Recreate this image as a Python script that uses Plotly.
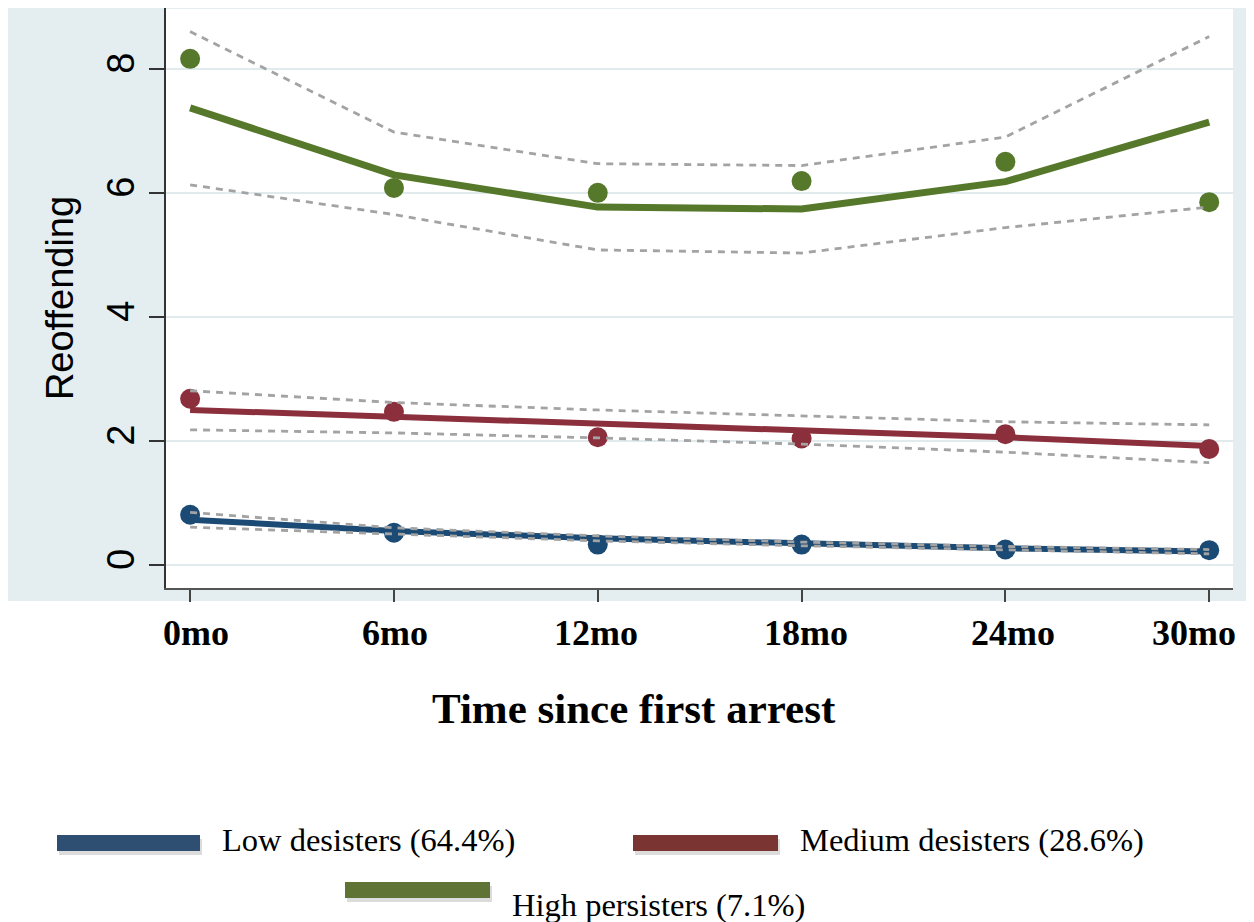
import plotly.graph_objects as go

# ---- data ----
months = [0, 6, 12, 18, 24, 30]
tick_labels = ["0mo", "6mo", "12mo", "18mo", "24mo", "30mo"]

low_obs = [0.81, 0.52, 0.33, 0.33, 0.25, 0.24]
low_fit = [0.73, 0.55, 0.43, 0.34, 0.27, 0.22]
low_up = [0.85, 0.60, 0.47, 0.37, 0.30, 0.25]
low_lo = [0.61, 0.50, 0.39, 0.31, 0.24, 0.18]

med_obs = [2.68, 2.47, 2.06, 2.04, 2.11, 1.87]
med_fit = [2.50, 2.39, 2.29, 2.18, 2.06, 1.92]
med_up = [2.81, 2.62, 2.50, 2.40, 2.31, 2.26]
med_lo = [2.18, 2.13, 2.05, 1.95, 1.82, 1.65]

high_obs = [8.16, 6.08, 6.00, 6.19, 6.50, 5.85]
high_fit = [7.37, 6.29, 5.77, 5.74, 6.18, 7.14]
high_up = [8.60, 6.98, 6.47, 6.44, 6.90, 8.52]
high_lo = [6.13, 5.65, 5.08, 5.03, 5.44, 5.77]

legend_names = ["Low desisters (64.4%)", "Medium desisters (28.6%)", "High persisters (7.1%)"]

BLUE = "#1b4a74"
RED = "#8c2f3c"
GREEN = "#56782b"
DASH = "#a3a3a3"

# page body has an 8px margin; figure is sized so it ends at the window edge
OFF = 8
W, H = 1254 - OFF, 922 - OFF
PLOT_L, PLOT_R, PLOT_T, PLOT_B = 166, 1233, 8, 588   # screen pixels
L, R, T, B = PLOT_L - OFF, 1254 - PLOT_R, PLOT_T - OFF, 922 - PLOT_B
PW, PH = W - L - R, H - T - B


def px(x):
    return (x - PLOT_L) / PW


def py(y):
    return (PLOT_B - y) / PH


fig = go.Figure()

series = [
    (low_obs, low_fit, low_up, low_lo, BLUE, 6),
    (med_obs, med_fit, med_up, med_lo, RED, 6),
    (high_obs, high_fit, high_up, high_lo, GREEN, 7),
]

for obs, fit, up, lo, col, lw in series:
    fig.add_trace(go.Scatter(x=months, y=obs, mode="markers",
                             marker=dict(color=col, size=20), showlegend=False))
for obs, fit, up, lo, col, lw in series:
    fig.add_trace(go.Scatter(x=months, y=fit, mode="lines",
                             line=dict(color=col, width=lw), showlegend=False))
for obs, fit, up, lo, col, lw in series:
    for band in (up, lo):
        fig.add_trace(go.Scatter(x=months, y=band, mode="lines",
                                 line=dict(color=DASH, width=2.8, dash="7px,6px"),
                                 showlegend=False))

shapes = [
    dict(type="rect", xref="paper", yref="paper", x0=px(8), x1=px(1249),
         y0=py(601), y1=py(8), fillcolor="#e4eef0", line=dict(width=0), layer="below"),
    dict(type="rect", xref="paper", yref="paper", x0=0, x1=1,
         y0=0, y1=py(9), fillcolor="white", line=dict(width=0), layer="below"),
]

annotations = [
    dict(text="<b>Time since first arrest</b>", xref="paper", yref="paper",
         x=px(634), y=py(708), showarrow=False, xanchor="center", yanchor="middle",
         font=dict(family="Liberation Serif", size=43, color="black")),
]

# x tick labels (placed as in the reference, slightly off the tick marks)
label_shift = [6, 1, -2, 4, 8, -15]
for m, lab, sh in zip(months, tick_labels, label_shift):
    annotations.append(dict(text=f"<b>{lab}</b>", xref="x", yref="paper", x=m, y=py(633),
                            xshift=sh, showarrow=False, xanchor="center", yanchor="middle",
                            font=dict(family="Liberation Serif", size=36, color="black")))

legend_items = [
    (legend_names[0], "#2e4f72", 57, 200, 835, 851, 220, 840),
    (legend_names[1], "#7a3431", 633, 778, 835, 851, 798, 840),
    (legend_names[2], "#5f7334", 345, 490, 882, 898, 510, 905),
]
for name, rc, x0, x1, y0, y1, tx, ty in legend_items:
    shapes.append(dict(type="rect", xref="paper", yref="paper",
                       x0=px(x0 + 2), x1=px(x1 + 2), y0=py(y1 + 4), y1=py(y0 + 4),
                       fillcolor="#dcdcdc", line=dict(width=0)))
    shapes.append(dict(type="rect", xref="paper", yref="paper",
                       x0=px(x0), x1=px(x1), y0=py(y1), y1=py(y0),
                       fillcolor=rc, line=dict(width=0)))
    annotations.append(dict(text=name, xref="paper", yref="paper", x=px(tx), y=py(ty),
                            showarrow=False, xanchor="left", yanchor="middle",
                            font=dict(family="Liberation Serif", size=32.5, color="black")))

fig.update_layout(
    width=W, height=H,
    margin=dict(l=L, r=R, t=T, b=B, pad=0),
    paper_bgcolor="white",
    plot_bgcolor="rgba(0,0,0,0)",
    shapes=shapes,
    annotations=annotations,
    showlegend=False,
    xaxis=dict(
        range=[-0.71, 30.7], tickvals=months, showticklabels=False,
        showgrid=False, zeroline=False,
        showline=True, linecolor="#555555", linewidth=2,
        ticks="outside", ticklen=12, tickwidth=2, tickcolor="#444444",
    ),
    yaxis=dict(
        range=[-0.37, 8.98], tickvals=[0, 2, 4, 6, 8],
        showgrid=True, gridcolor="#e1ebee", gridwidth=2, zeroline=False,
        showline=True, linecolor="#333333", linewidth=2,
        ticks="outside", ticklen=15, tickwidth=2, tickcolor="#333333",
        tickangle=-90,
        tickfont=dict(family="Liberation Sans", size=38, color="black"),
        title=dict(text="Reoffending", standoff=14,
                   font=dict(family="Liberation Sans", size=38, color="black")),
    ),
)

fig.write_html("out.html")
